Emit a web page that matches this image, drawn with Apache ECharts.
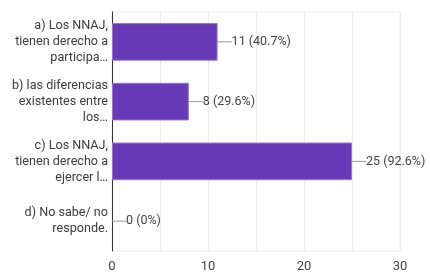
<!DOCTYPE html>
<html>
<head>
<meta charset="utf-8">
<script src="https://cdn.jsdelivr.net/npm/echarts@6/dist/echarts.min.js"></script>
<style>
  html, body { margin: 0; padding: 0; background: #fff; }
  #chart { width: 430px; height: 273px; }
</style>
</head>
<body>
<div id="chart"></div>
<script>
// respuestas
var categories = [
  'a) Los NNAJ,\ntienen derecho a\nparticipa…',
  'b) las diferencias\nexistentes entre\nlos…',
  'c) Los NNAJ,\ntienen derecho a\nejercer l…',
  'd) No sabe/ no\nresponde.'
];
var counts = [11, 8, 25, 0];
var total = 27;
var xTicks = [0, 10, 20, 30];

var chart = echarts.init(document.getElementById('chart'));

// sin borde para las barras en cero
var barData = counts.map(function (v) {
  return { value: v, itemStyle: { borderWidth: v > 0 ? 1 : 0 } };
});

var option = {
  animation: false,
  textStyle: { fontFamily: 'Roboto' },
  grid: {
    left: 112,
    right: 30,
    top: 12,
    bottom: 20,
    show: true,
    borderColor: '#ececec',
    borderWidth: 1
  },
  xAxis: {
    type: 'value',
    min: 0,
    max: 30,
    interval: 5,
    axisLine: { show: false },
    axisTick: { show: false },
    splitLine: { show: true, lineStyle: { color: '#ececec' } },
    axisLabel: {
      color: '#444',
      fontSize: 13,
      margin: 9,
      formatter: function (v) {
        return xTicks.indexOf(v) >= 0 ? String(v) : '';
      }
    }
  },
  yAxis: {
    type: 'category',
    inverse: true,
    data: categories,
    axisLine: { show: true, lineStyle: { color: '#333', width: 1 } },
    axisTick: { show: false },
    axisLabel: {
      color: '#3c3c3c',
      fontSize: 12.6,
      lineHeight: 16,
      margin: 4,
      align: 'right'
    }
  },
  series: [{
    type: 'bar',
    data: barData,
    barWidth: '63%',
    itemStyle: {
      color: '#673ab7',
      borderColor: '#9575cd',
      borderWidth: 1
    },
    label: {
      show: true,
      position: 'right',
      distance: 0,
      color: '#444',
      fontSize: 12.5,
      formatter: function (p) {
        var pct = Math.round(p.value / total * 1000) / 10;
        return p.value + ' (' + pct + '%)';
      }
    },
    labelLayout: { dx: 14 },
    labelLine: {
      show: true,
      lineStyle: { color: '#999', width: 1 }
    }
  }]
};

chart.setOption(option);
</script>
</body>
</html>
